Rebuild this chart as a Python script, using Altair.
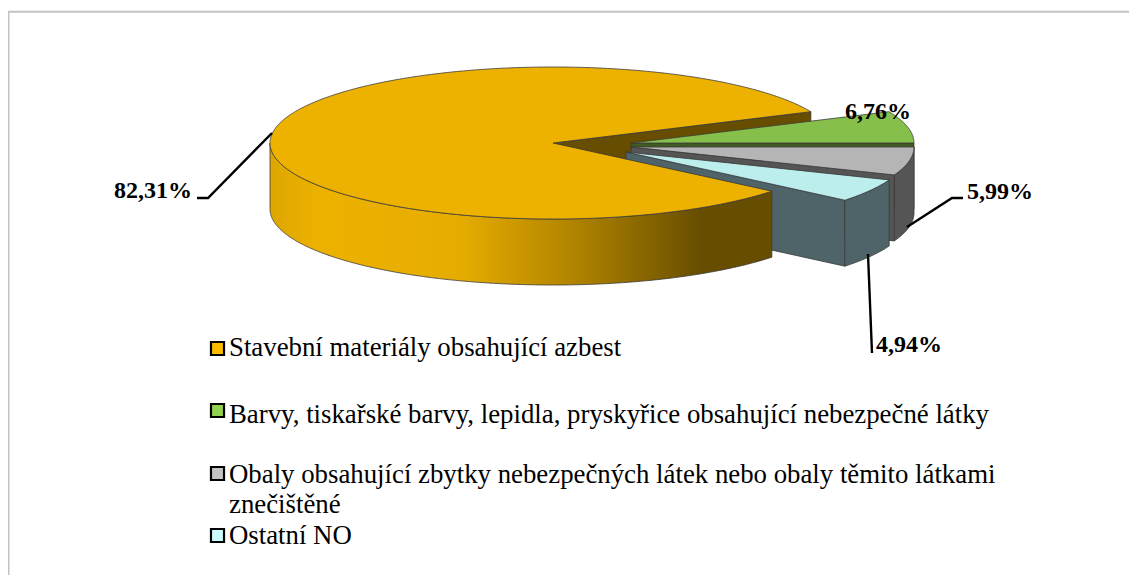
import math
import altair as alt

# values
categories = ["Stavební materiály obsahující azbest",
              "Barvy, tiskařské barvy, lepidla, pryskyřice obsahující nebezpečné látky",
              "Obaly obsahující zbytky nebezpečných látek nebo obaly těmito látkami",
              "Ostatní NO"]
shares = [82.31, 6.76, 5.99, 4.94]
share_labels = ["82,31%", "6,76%", "5,99%", "4,94%"]

# colours
top_colors = ["#EDB200", "#86BF4A", "#B5B5B5", "#BDEEEE"]
wall_colors = ["#674D00", "#3F5A22", "#555555", "#4E6468"]
swatch_colors = ["#FDBB00", "#92D050", "#C4C4C4", "#CCFFFF"]
EDGE = "#3A3A3A"

# layout
W, H = 1121, 567
OX, OY = 8, 8
RX, RY, DEPTH = 283, 76, 66
centers = [(553, 143), (631, 143), (631, 147), (626, 152)]


def ell(c, t, dy=0):
    a = math.radians(t)
    return [c[0] + RX * math.cos(a) - OX, c[1] + RY * math.sin(a) + dy - OY]


def arc(c, t0, t1, dy=0):
    n = max(2, int(abs(t1 - t0)) * 2)
    return [ell(c, t0 + (t1 - t0) * i / n, dy) for i in range(n + 1)]


def apex(c, dy=0):
    return [c[0] - OX, c[1] + dy - OY]


def face(points, fill):
    return {"type": "Feature", "properties": {"fill": fill},
            "geometry": {"type": "Polygon", "coordinates": [points + [points[0]]]}}


def top(c, t0, t1, fill):
    return face([apex(c)] + arc(c, t0, t1), fill)


def outer(c, t0, t1, fill):
    return face(arc(c, t0, t1) + arc(c, t1, t0, DEPTH), fill)


def radial(c, t, fill):
    return face([apex(c), ell(c, t), ell(c, t, DEPTH), apex(c, DEPTH)], fill)


# slice angles, clockwise on screen
t_green0 = -shares[1] * 3.6
t_gray0 = 0.0
t_cyan0 = shares[2] * 3.6
t_yel0 = t_cyan0 + shares[3] * 3.6
t_yel1 = t_yel0 + shares[0] * 3.6

back = [
    radial(centers[0], t_yel1, wall_colors[0]),
    radial(centers[1], t_gray0, wall_colors[1]),
    top(centers[1], t_green0, t_gray0, top_colors[1]),
    outer(centers[2], t_gray0, t_cyan0, wall_colors[2]),
    radial(centers[2], t_cyan0, wall_colors[2]),
    top(centers[2], t_gray0, t_cyan0, top_colors[2]),
    radial(centers[3], t_yel0, wall_colors[3]),
    outer(centers[3], t_cyan0, t_yel0, wall_colors[3]),
    top(centers[3], t_cyan0, t_yel0, top_colors[3]),
]
yellow_wall = [outer(centers[0], t_yel0, 180, "x")]
front = [top(centers[0], t_yel0, t_yel1, top_colors[0])]


def geo_data(features):
    return alt.InlineData(values={"type": "FeatureCollection", "features": features},
                          format=alt.DataFormat(property="features", type="json"))


proj = dict(type="identity", scale=1, translate=[0, 0])


def geo_layer(features):
    return alt.Chart(geo_data(features)).mark_geoshape(stroke=EDGE, strokeWidth=0.8).encode(
        fill=alt.Fill("properties.fill:N", scale=None)
    ).project(**proj)


gradient = alt.Gradient(gradient="linear", x1=0, x2=1, y1=0, y2=0, stops=[
    alt.GradientStop(color="#DDA600", offset=0.0),
    alt.GradientStop(color="#EDB200", offset=0.1),
    alt.GradientStop(color="#E6AC00", offset=0.38),
    alt.GradientStop(color="#B28500", offset=0.6),
    alt.GradientStop(color="#674D00", offset=0.86),
    alt.GradientStop(color="#674D00", offset=1.0),
])
wall_layer = alt.Chart(geo_data(yellow_wall)).mark_geoshape(
    fill=gradient, stroke=EDGE, strokeWidth=0.8).project(**proj)

X = alt.X("x:Q", scale=alt.Scale(domain=[0, W], range=[0, W]), axis=None)
Y = alt.Y("y:Q", scale=alt.Scale(domain=[0, H], range=[0, H]), axis=None)


def px(x):
    return x - OX


def py(y):
    return y - OY


border = alt.Chart(alt.Data(values=[{"x": px(8.5), "y": py(11.7), "x2": px(1150), "y2": py(600)}])).mark_rect(
    fill="white", stroke="#C4C4C4", strokeWidth=2
).encode(X, Y, x2="x2:Q", y2="y2:Q")

# leader lines
leader_x = [[197, 208, 272], [907, 952, 963], [868, 872]]
leader_y = [[198, 198, 133], [227, 198, 198], [254, 353]]
leader_rows = [{"x": px(a), "y": py(b), "g": i, "o": j}
               for i, (xs, ys) in enumerate(zip(leader_x, leader_y))
               for j, (a, b) in enumerate(zip(xs, ys))]
leaders = alt.Chart(alt.Data(values=leader_rows)).mark_line(color="black", strokeWidth=2.4).encode(
    X, Y, detail="g:N", order="o:Q")

# value labels
label_right = [192, 911, 1033, 942]
label_mid = [191, 112, 192, 345]
label_rows = [{"x": px(a), "y": py(b), "t": t} for a, b, t in zip(label_right, label_mid, share_labels)]
labels = alt.Chart(alt.Data(values=label_rows)).mark_text(
    font="Liberation Serif", fontSize=24, fontWeight="bold", align="right", baseline="middle", color="black"
).encode(X, Y, text="t:N")

# legend
swatch_mid = [348.5, 410.5, 473.5, 535.5]
swatch_x = 217.5
swatch_rows = [{"x": px(swatch_x), "y": py(b), "c": c} for b, c in zip(swatch_mid, swatch_colors)]
swatches = alt.Chart(alt.Data(values=swatch_rows)).mark_square(
    size=170, stroke="black", strokeWidth=2.2, opacity=1
).encode(X, Y, fill=alt.Fill("c:N", scale=None))

legend_lines = [categories[0], categories[1], categories[2], "znečištěné", categories[3]]
legend_line_x = [229, 229, 229, 229, 229]
legend_line_y = [348, 415, 475, 505, 536]
legend_rows = [{"x": px(a), "y": py(b), "t": t} for a, b, t in zip(legend_line_x, legend_line_y, legend_lines)]
legend_text = alt.Chart(alt.Data(values=legend_rows)).mark_text(
    font="Liberation Serif", fontSize=26.8, align="left", baseline="middle", color="black"
).encode(X, Y, text="t:N")

chart = alt.layer(
    border,
    geo_layer(back),
    wall_layer,
    geo_layer(front),
    leaders,
    labels,
    swatches,
    legend_text,
).properties(
    width=W, height=H, padding=0, autosize=alt.AutoSizeParams(type="none"), background="white"
).configure_view(stroke=None)

chart.save("out.html", embed_options={"renderer": "svg", "actions": False})
